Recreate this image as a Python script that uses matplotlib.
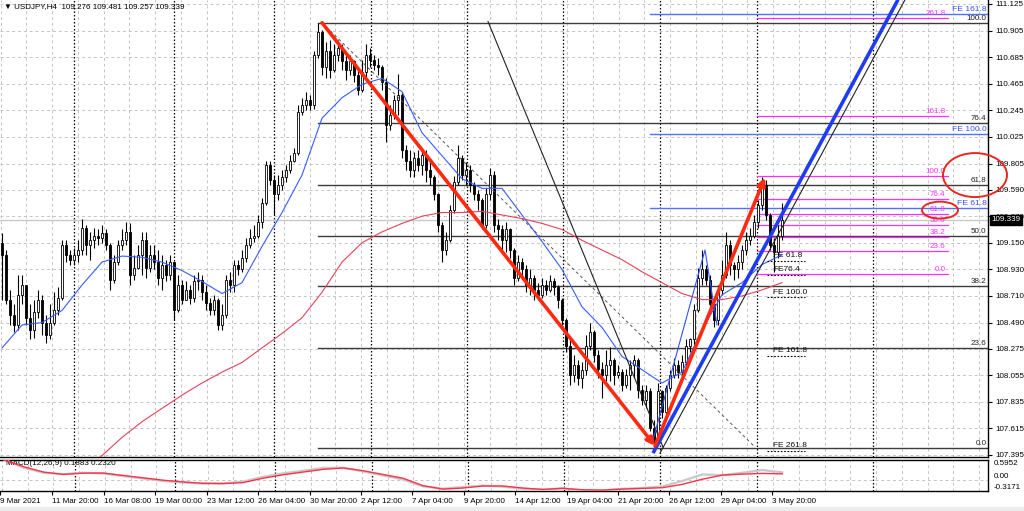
import matplotlib
matplotlib.use('Agg')
import matplotlib.pyplot as plt
import numpy as np
from matplotlib.patches import Ellipse, Rectangle

plt.rcParams['font.family'] = ['Liberation Sans', 'DejaVu Sans']

# ---------------- data ----------------
symbol_header = "USDJPY,H4  109.276 109.481 109.257 109.339"
open0 = 109.15
close = [
    109.05, 108.68, 108.55, 108.47, 108.72, 108.80, 108.53, 108.43, 108.58, 108.68,
    108.49, 108.39, 108.49, 108.59, 108.69, 109.13, 109.05, 109.01, 109.05, 109.09,
    109.27, 109.13, 109.17, 109.21, 109.19, 109.23, 109.13, 108.84, 108.99, 109.13,
    109.17, 109.24, 108.88, 108.94, 109.05, 109.17, 108.94, 109.05, 108.99, 108.86,
    108.97, 108.88, 108.99, 108.59, 108.80, 108.68, 108.76, 108.69, 108.83, 108.84,
    108.74, 108.65, 108.59, 108.68, 108.47, 108.55, 108.84, 108.80, 108.97, 108.93,
    109.02, 109.13, 109.19, 109.21, 109.32, 109.48, 109.79, 109.67, 109.55, 109.63,
    109.69, 109.75, 109.83, 109.89, 110.23, 110.29, 110.33, 110.29, 110.70, 110.89,
    110.60, 110.74, 110.58, 110.70, 110.76, 110.65, 110.58, 110.65, 110.54, 110.41,
    110.56, 110.70, 110.66, 110.62, 110.60, 110.48, 110.12, 110.21, 110.33, 110.37,
    109.92, 109.83, 109.75, 109.85, 109.79, 109.88, 109.75, 109.69, 109.55, 109.30,
    109.09, 109.17, 109.42, 109.65, 109.85, 109.71, 109.75, 109.63, 109.55, 109.50,
    109.30, 109.55, 109.71, 109.30, 109.26, 109.17, 109.26, 109.09, 108.86, 108.99,
    108.93, 108.80, 108.86, 108.76, 108.72, 108.80, 108.76, 108.83, 108.78, 108.68,
    108.51, 108.30, 108.06, 108.14, 108.03, 108.10, 108.30, 108.41, 108.22, 108.11,
    108.06, 108.14, 108.18, 108.06, 108.08, 107.97, 108.06, 108.14, 108.18, 107.93,
    107.85, 107.92, 107.62, 107.52, 107.92, 107.75, 107.95, 108.06, 108.14, 108.08,
    108.16, 108.30, 108.35, 108.59, 108.86, 108.93, 108.84, 108.64, 108.51, 108.76,
    108.88, 109.13, 108.97, 108.93, 108.99, 109.09, 109.17, 109.21, 109.32, 109.46,
    109.63, 109.38, 109.13, 109.07, 109.21, 109.339]
high = [
    109.23, 109.09, 108.76, 108.64, 108.88, 108.88, 108.80, 108.64, 108.68, 108.76,
    108.72, 108.55, 108.64, 108.74, 108.78, 109.17, 109.17, 109.09, 109.11, 109.17,
    109.35, 109.30, 109.24, 109.27, 109.26, 109.30, 109.26, 109.15, 109.05, 109.17,
    109.26, 109.32, 109.31, 109.05, 109.13, 109.24, 109.24, 109.13, 109.13, 109.09,
    109.05, 109.01, 109.05, 108.88, 108.88, 108.84, 108.83, 108.80, 108.88, 108.91,
    108.88, 108.80, 108.69, 108.72, 108.69, 108.64, 108.88, 108.91, 109.01, 109.01,
    109.09, 109.19, 109.26, 109.30, 109.38, 109.52, 109.83, 109.83, 109.71, 109.71,
    109.75, 109.79, 109.88, 109.93, 110.29, 110.35, 110.40, 110.37, 110.74, 110.97,
    110.91, 110.81, 110.83, 110.79, 110.83, 110.79, 110.70, 110.70, 110.66, 110.58,
    110.66, 110.79, 110.76, 110.70, 110.68, 110.62, 110.51, 110.29, 110.37, 110.55,
    110.40, 109.96, 109.92, 109.90, 109.92, 109.93, 109.92, 109.82, 109.71, 109.56,
    109.32, 109.24, 109.46, 109.70, 109.96, 109.88, 109.82, 109.79, 109.65, 109.59,
    109.52, 109.60, 109.77, 109.74, 109.35, 109.30, 109.32, 109.27, 109.11, 109.05,
    109.02, 108.97, 108.93, 108.88, 108.82, 108.86, 108.84, 108.88, 108.86, 108.80,
    108.69, 108.53, 108.35, 108.22, 108.18, 108.16, 108.39, 108.49, 108.43, 108.26,
    108.16, 108.26, 108.29, 108.20, 108.14, 108.11, 108.11, 108.18, 108.22, 108.20,
    107.97, 107.97, 107.95, 107.68, 107.99, 107.93, 107.97, 108.10, 108.20, 108.18,
    108.22, 108.35, 108.36, 108.64, 108.94, 109.09, 108.97, 108.88, 108.68, 108.80,
    109.01, 109.24, 109.17, 108.99, 109.05, 109.13, 109.24, 109.27, 109.38, 109.50,
    109.69, 109.67, 109.40, 109.19, 109.30, 109.48]
low = [
    108.68, 108.64, 108.47, 108.41, 108.43, 108.64, 108.47, 108.35, 108.36, 108.53,
    108.39, 108.32, 108.35, 108.47, 108.55, 108.68, 108.99, 108.97, 108.97, 108.99,
    109.05, 109.05, 109.01, 109.11, 109.13, 109.15, 109.09, 108.76, 108.82, 108.97,
    109.09, 109.13, 108.80, 108.84, 108.93, 108.88, 108.86, 108.91, 108.93, 108.80,
    108.76, 108.83, 108.84, 108.51, 108.58, 108.64, 108.69, 108.64, 108.66, 108.76,
    108.68, 108.59, 108.55, 108.55, 108.43, 108.43, 108.53, 108.74, 108.74, 108.88,
    108.91, 108.99, 109.11, 109.16, 109.19, 109.27, 109.46, 109.63, 109.38, 109.50,
    109.59, 109.65, 109.73, 109.82, 109.88, 110.21, 110.25, 110.25, 110.26, 110.68,
    110.54, 110.51, 110.51, 110.56, 110.65, 110.58, 110.50, 110.54, 110.48, 110.37,
    110.40, 110.51, 110.60, 110.58, 110.54, 110.41, 109.98, 110.08, 110.17, 110.21,
    109.85, 109.75, 109.69, 109.69, 109.74, 109.71, 109.65, 109.63, 109.50, 109.24,
    108.99, 109.05, 109.16, 109.40, 109.63, 109.67, 109.63, 109.57, 109.50, 109.42,
    109.26, 109.27, 109.50, 109.24, 109.17, 109.09, 109.07, 109.02, 108.80, 108.83,
    108.86, 108.74, 108.72, 108.68, 108.68, 108.69, 108.72, 108.74, 108.72, 108.61,
    108.47, 108.25, 107.97, 108.00, 107.97, 107.95, 108.06, 108.26, 108.16, 108.03,
    107.87, 108.01, 108.01, 107.97, 108.03, 107.92, 107.95, 107.93, 108.03, 107.87,
    107.81, 107.78, 107.59, 107.48, 107.50, 107.70, 107.73, 107.92, 108.03, 108.03,
    108.06, 108.14, 108.25, 108.30, 108.58, 108.80, 108.80, 108.59, 108.45, 108.47,
    108.72, 108.86, 108.88, 108.84, 108.86, 108.93, 109.05, 109.13, 109.19, 109.27,
    109.42, 109.34, 109.09, 108.91, 109.02, 109.17]

# moving averages, read every 5 bars
ma_fast = [108.28, 108.47, 108.49, 108.59, 108.80, 108.99, 109.04, 109.03, 108.99, 108.92,
           108.83, 108.73, 108.82, 109.12, 109.40, 109.71, 110.18, 110.35, 110.46, 110.51,
           110.40, 110.06, 109.87, 109.68, 109.60, 109.60, 109.38, 109.16, 108.93, 108.62,
           108.45, 108.21, 108.10, 107.99, 108.08, 108.43, 108.72, 108.82, 108.97, 109.05]
ma_slow_start = 20
ma_slow = [107.27, 107.39, 107.54, 107.67, 107.78, 107.89, 107.99, 108.08, 108.16, 108.28,
           108.40, 108.53, 108.74, 108.99, 109.15, 109.24, 109.31, 109.37, 109.40, 109.40,
           109.41, 109.38, 109.35, 109.31, 109.26, 109.17, 109.09, 109.01, 108.91, 108.82,
           108.73, 108.68, 108.68, 108.71, 108.76, 108.82]
macd_main = [0.60, 0.40, 0.24, 0.17, 0.21, 0.21, 0.14, 0.07, 0.00, -0.05,
             -0.09, -0.10, -0.07, 0.06, 0.16, 0.24, 0.32, 0.36, 0.28, 0.17,
             0.06, -0.16, -0.26, -0.23, -0.17, -0.17, -0.23, -0.27, -0.24, -0.28,
             -0.29, -0.26, -0.24, -0.22, -0.12, 0.03, 0.15, 0.18, 0.20, 0.1883]
macd_signal = [0.62, 0.37, 0.22, 0.18, 0.22, 0.20, 0.12, 0.05, -0.02, -0.07,
               -0.10, -0.09, -0.04, 0.10, 0.20, 0.28, 0.36, 0.37, 0.26, 0.14,
               0.02, -0.18, -0.25, -0.20, -0.16, -0.19, -0.25, -0.28, -0.23, -0.31,
               -0.30, -0.25, -0.23, -0.18, -0.02, 0.17, 0.15, 0.22, 0.30, 0.2320]
sample_step = 5

price_ticks = [111.125, 110.905, 110.685, 110.465, 110.245, 110.025, 109.805, 109.590,
               109.370, 109.150, 108.930, 108.710, 108.490, 108.275, 108.055, 107.835,
               107.615, 107.395]
time_labels = ["9 Mar 2021", "11 Mar 20:00", "16 Mar 08:00", "19 Mar 00:00", "23 Mar 12:00",
               "26 Mar 04:00", "30 Mar 20:00", "2 Apr 12:00", "7 Apr 04:00", "9 Apr 20:00",
               "14 Apr 12:00", "19 Apr 04:00", "21 Apr 20:00", "26 Apr 12:00", "29 Apr 04:00",
               "3 May 20:00"]
week_starts = [18, 43, 68, 92.25, 116.25, 140.25, 164.5, 188.75, 217.75]

fib_levels = [0.0, 23.6, 38.2, 50.0, 61.8, 76.4, 100.0]
fib_high, fib_low, fib_start = 110.97, 107.45, 79.0
fib2_levels = [0.0, 23.6, 38.2, 50.0, 61.8, 76.4, 100.0, 161.8, 261.8]
fib2_low, fib2_high, fib2_start, fib2_end = 108.89, 109.70, 188.75, 236.5
fe_up_levels = [61.8, 100.0, 161.8]
fe_up_base, fe_up_range, fe_up_start = 108.45, 1.60, 162.0
fe_dn_levels = [61.8, 76.4, 100.0, 161.8, 261.8]
fe_dn_labels = ["FE 61.8", "FE76.4", "FE 100.0", "FE 161.8", "FE 261.8"]
fe_dn_base, fe_dn_range = 109.485, 0.785
last_price = 109.339
macd_text = "MACD(12,26,9) 0.1883 0.2320"

# drawn objects (bar index, price)
arrow1 = [(80.0, 110.97), (163.25, 107.47)]
arrow2 = [(163.25, 107.47), (190.75, 109.69)]
blue_trend = [(162.75, 107.41), (224.0, 111.16)]
black_trend = [(164.5, 107.41), (225.75, 111.16)]
black_line = [(121.5, 110.98), (165.25, 107.46)]
dash_line = [(80.0, 110.97), (188.25, 107.46)]
blue_zig = [(162.75, 107.52), (175.75, 109.09), (178.75, 108.47)]

# ---------------- figure ----------------
W, H = 1024, 511
fig = plt.figure(figsize=(W / 100, H / 100), dpi=100)
fig.patch.set_facecolor('white')
axr = 988 / W
ax = fig.add_axes([0, 1 - 457 / H, axr, 457 / H])
axm = fig.add_axes([0, 1 - 491 / H, axr, 31 / H])

xmin, xmax = -0.5, 246.5
ax.set_xlim(xmin, xmax)
ax.set_ylim(107.378, 111.158)
axm.set_xlim(xmin, xmax)
axm.set_ylim(-0.3171, 0.5952)

def px2i(px):
    return (px - 2) / 4.0

GRID = '#c4c4c4'
FS = 5.8
# grid
grid_x = [px2i(52 + 25.75 * m) for m in range(-2, 38)]
for a in (ax, axm):
    for gx in grid_x:
        a.axvline(gx, color=GRID, lw=0.7, ls=(0, (3, 3)), zorder=0)
    for ws in week_starts:
        a.axvline(ws, color='black', lw=0.9, ls=(0, (1.2, 1.6)), zorder=0.5)
for p in price_ticks:
    ax.axhline(p, color=GRID, lw=0.7, ls=(0, (3, 3)), zorder=0)
axm.axhline(0.0, color=GRID, lw=0.7, ls=(0, (3, 3)), zorder=0)

# current price line
ax.axhline(last_price, color='#c8c8c8', lw=1.0, zorder=0.6)

# candles
n = len(close)
opens = [open0] + close[:-1]
xs = np.arange(n)
for i in range(n):
    o, c = opens[i], close[i]
    h = max(high[i], o, c)
    l = min(low[i], o, c)
    ax.vlines(i, l, h, color='black', lw=0.8, zorder=3)
    bot, top = min(o, c), max(o, c)
    ht = max(top - bot, 0.004)
    fc = 'white' if c >= o else 'black'
    ax.add_patch(Rectangle((i - 0.32, bot), 0.64, ht, facecolor=fc,
                           edgecolor='black', lw=0.6, zorder=4))

# moving averages
ax.plot(np.arange(len(ma_fast)) * sample_step, ma_fast, color='#3a5cff', lw=0.8, zorder=5)
ax.plot(ma_slow_start + np.arange(len(ma_slow)) * sample_step, ma_slow,
        color='#e8405a', lw=0.8, zorder=5)

# fib retracement (black)
for lv in fib_levels:
    p = fib_low + (fib_high - fib_low) * lv / 100.0
    ax.plot([fib_start, xmax], [p, p], color='#3c3c3c', lw=1.0, zorder=2)
    ax.text(xmax - 0.4, p + 0.008, f"{lv:.1f}", ha='right', va='bottom',
            fontsize=FS, color='#222222', zorder=6)

# fib retracement (magenta)
for lv in fib2_levels:
    p = fib2_low + (fib2_high - fib2_low) * lv / 100.0
    ax.plot([fib2_start, fib2_end], [p, p], color='#ff30ff', lw=0.9, zorder=2)
    ax.text(fib2_end - 0.6, p + 0.008, f"{lv:.1f}", ha='right', va='bottom',
            fontsize=FS, color='#ff30ff', zorder=6)

# fib expansion (blue)
for lv in fe_up_levels:
    p = fe_up_base + fe_up_range * lv / 100.0
    ax.plot([fe_up_start, xmax], [p, p], color='#5070ff', lw=1.0, zorder=2)
    ax.text(xmax - 0.4, p + 0.008, f"FE {lv:.1f}", ha='right', va='bottom',
            fontsize=FS + 0.3, color='#3050ff', zorder=6)

# fib expansion (black, dotted)
for lv, lab in zip(fe_dn_levels, fe_dn_labels):
    p = fe_dn_base - fe_dn_range * lv / 100.0
    ax.plot([191.25, 200.75], [p, p], color='black', lw=0.8, ls=(0, (1.5, 1.5)), zorder=6)
    ax.text(192.75, p + 0.012, lab, ha='left', va='bottom', fontsize=FS + 0.2,
            color='#111111', zorder=6)

# drawn lines
def seg(pts, **kw):
    ax.plot([q[0] for q in pts], [q[1] for q in pts], **kw)

seg(dash_line, color='#555555', lw=0.7, ls=(0, (3, 3)), zorder=5)
seg(black_line, color='#222222', lw=0.8, zorder=5)
seg(blue_zig, color='#3050ff', lw=0.8, zorder=5)
seg(black_trend, color='#222222', lw=0.8, zorder=6)
seg(blue_trend, color='#1f3cf0', lw=2.6, zorder=7, solid_capstyle='butt')

for a0, a1 in (arrow1, arrow2):
    ax.annotate('', xy=a1, xytext=a0,
                arrowprops=dict(arrowstyle='-|>', color='#ff2a10', lw=2.6,
                                mutation_scale=11, shrinkA=0, shrinkB=0), zorder=8)

# ellipses
ax.add_patch(Ellipse((243.25, 109.71), 16.0, 0.364, fill=False, edgecolor='#e8281e',
                     lw=1.4, clip_on=False, zorder=9))
ax.add_patch(Ellipse((234.5, 109.42), 9.0, 0.14, fill=False, edgecolor='#e8281e',
                     lw=1.4, clip_on=False, zorder=9))

# axes styling
for a in (ax, axm):
    a.spines['left'].set_visible(False)
    for s in ('right', 'bottom', 'top'):
        a.spines[s].set_color('black')
        a.spines[s].set_linewidth(1.0)
ax.spines['top'].set_visible(False)
ax.set_xticks([])
ax.yaxis.tick_right()
ax.set_yticks(price_ticks)
ax.set_yticklabels([f"{p:.3f}" for p in price_ticks])
ax.tick_params(axis='y', length=3, width=0.8, pad=2, labelsize=FS, colors='black')

# current price box
ax.text(xmax + 0.9, last_price, f"{last_price:.3f}", ha='left', va='center',
        fontsize=FS, color='white', clip_on=False, zorder=10,
        bbox=dict(boxstyle='square,pad=0.18', facecolor='black', edgecolor='black'))

# header
ax.text(0.6, 111.10, "\u25bc " + symbol_header, ha='left', va='center', fontsize=FS,
        color='black', zorder=10)

# MACD panel
mx = np.arange(len(macd_main)) * sample_step
axm.plot(mx, macd_signal, color='#c8c8c8', lw=1.6, zorder=3)
axm.plot(mx, macd_main, color='#ff3048', lw=1.0, zorder=4)
axm.text(0.6, 0.50, macd_text, ha='left', va='center', fontsize=FS, color='black')
axm.set_yticks([])
for v, lab, va in ((0.5952, "0.5952", 'top'), (0.0, "0.00", 'bottom'), (-0.3171, "-0.3171", 'bottom')):
    axm.text(xmax + 1.4, v, lab, ha='left', va=va, fontsize=FS, clip_on=False)
tick_px = [-1.5] + [51 + 51.5 * k for k in range(len(time_labels) - 1)]
axm.set_xticks([px2i(t) for t in tick_px])
axm.set_xticklabels(time_labels)
for lab in axm.get_xticklabels():
    lab.set_ha('left')
axm.tick_params(axis='x', length=3, width=0.8, pad=2, labelsize=FS)

fig.patches.append(Rectangle((0, 0), 1, 4 / H, transform=fig.transFigure,
                             facecolor='#ececec', edgecolor='none'))

fig.savefig('out.png', dpi=100)
